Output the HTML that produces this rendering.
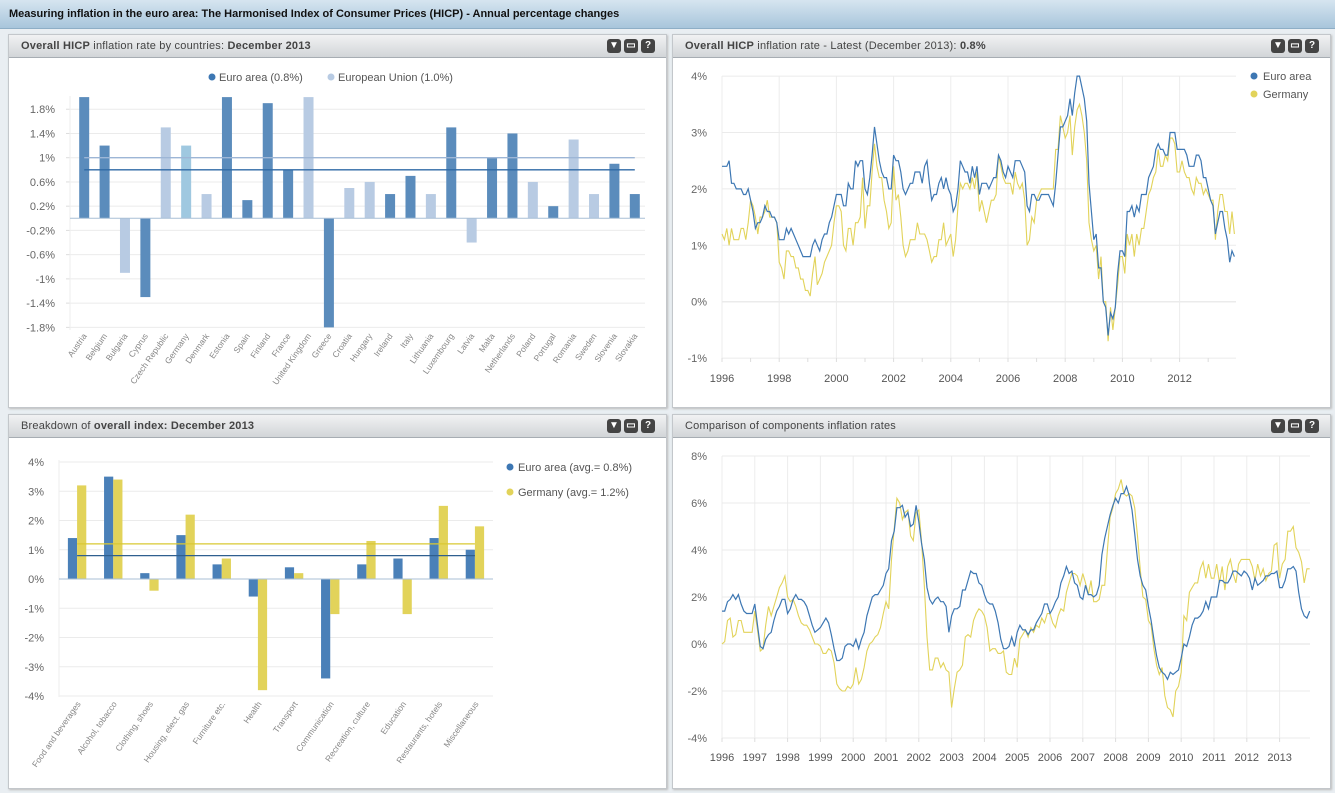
<!DOCTYPE html>
<html><head><meta charset="utf-8">
<style>
body{margin:0;width:1335px;height:793px;background:#e9eef2;font-family:"Liberation Sans",sans-serif;overflow:hidden;position:relative}
.hdr{position:absolute;left:0;top:0;width:1335px;height:28px;background:linear-gradient(#d6e5f0,#a8c5db);border-bottom:1px solid #8eaec6}
.hdr span{position:absolute;left:9px;top:8px;font-size:11px;font-weight:bold;color:#111}
.panel{position:absolute;background:#fff;border:1px solid #c3c7cb;box-shadow:1px 1px 2px #bbb}
.pt{position:absolute;left:0;top:0;right:0;height:22px;background:linear-gradient(#f1f2f3,#d2d5d8);border-bottom:1px solid #a7adb3}
.pt span{position:absolute;left:12px;top:5px;font-size:11px;color:#444;letter-spacing:0.2px}
.ic{position:absolute;top:4px;width:14px;height:14px;border-radius:3px;background:#444;color:#fff;font-size:10px;line-height:14px;text-align:center;font-weight:bold}
svg{position:absolute;left:0;top:0}
</style></head><body>
<div class="hdr"><span>Measuring inflation in the euro area: The Harmonised Index of Consumer Prices (HICP) - Annual percentage changes</span></div>

<div class="panel" style="left:8px;top:34px;width:657px;height:372px">
<div class="pt"><span><b>Overall HICP</b> inflation rate by countries: <b>December 2013</b></span>
<div class="ic" style="left:598px">▼</div><div class="ic" style="left:615px">▭</div><div class="ic" style="left:632px">?</div></div></div>

<div class="panel" style="left:672px;top:34px;width:657px;height:372px">
<div class="pt"><span><b>Overall HICP</b> inflation rate - Latest (December 2013): <b>0.8%</b></span>
<div class="ic" style="left:598px">▼</div><div class="ic" style="left:615px">▭</div><div class="ic" style="left:632px">?</div></div></div>

<div class="panel" style="left:8px;top:414px;width:657px;height:373px">
<div class="pt"><span>Breakdown of <b>overall index: December 2013</b></span>
<div class="ic" style="left:598px">▼</div><div class="ic" style="left:615px">▭</div><div class="ic" style="left:632px">?</div></div></div>

<div class="panel" style="left:672px;top:414px;width:657px;height:373px">
<div class="pt"><span>Comparison of components inflation rates</span>
<div class="ic" style="left:598px">▼</div><div class="ic" style="left:615px">▭</div><div class="ic" style="left:632px">?</div></div></div>

<svg id="s" width="1335" height="793" xmlns="http://www.w3.org/2000/svg" font-family="Liberation Sans, sans-serif"></svg>

<script>
// ---- chart 1: countries ----
const countries=["Austria","Belgium","Bulgaria","Cyprus","Czech Republic","Germany","Denmark","Estonia","Spain","Finland","France","United Kingdom","Greece","Croatia","Hungary","Ireland","Italy","Lithuania","Luxembourg","Latvia","Malta","Netherlands","Poland","Portugal","Romania","Sweden","Slovenia","Slovakia"];
const countryValues=[2.0,1.2,-0.9,-1.3,1.5,1.2,0.4,2.0,0.3,1.9,0.8,2.0,-1.8,0.5,0.6,0.4,0.7,0.4,1.5,-0.4,1.0,1.4,0.6,0.2,1.3,0.4,0.9,0.4];
const countryGroup=["E","E","N","E","N","G","N","E","E","E","E","N","E","N","N","E","E","N","E","N","E","E","N","E","N","N","E","E"];
const countryTicks=[1.8,1.4,1,0.6,0.2,-0.2,-0.6,-1,-1.4,-1.8];
const euroAvg=0.8, euAvg=1.0;
// ---- chart 2: latest ----
const euroMonthly=[2.4,2.4,2.4,2.5,2.1,2.1,2.0,2.0,2.0,1.9,1.9,2.0,
1.8,1.6,1.3,1.4,1.4,1.5,1.7,1.6,1.6,1.5,1.5,1.4,
1.1,1.1,1.1,1.3,1.2,1.3,1.2,1.1,1.0,0.9,0.8,0.8,
0.8,0.8,1.0,1.1,1.0,0.9,1.1,1.2,1.2,1.4,1.5,1.7,
1.9,1.9,1.9,1.7,1.7,2.1,2.0,2.0,2.5,2.4,2.5,2.5,
2.0,1.9,2.2,2.6,3.1,2.8,2.5,2.3,2.2,2.2,2.0,2.0,
2.6,2.5,2.5,2.3,2.0,1.9,2.0,2.1,2.1,2.3,2.3,2.3,
2.1,2.4,2.5,2.1,1.8,1.9,1.9,2.1,2.2,2.0,2.2,2.0,
1.9,1.6,1.7,2.0,2.5,2.4,2.3,2.3,2.1,2.4,2.2,2.4,
1.9,2.1,2.1,2.1,2.0,2.1,2.2,2.2,2.6,2.5,2.3,2.2,
2.4,2.3,2.2,2.5,2.5,2.5,2.4,2.3,1.7,1.6,1.9,1.9,
1.8,1.8,1.9,1.9,1.9,1.9,1.8,1.7,2.1,2.6,3.1,3.1,
3.2,3.3,3.6,3.3,3.7,4.0,4.0,3.8,3.6,3.2,2.1,1.6,
1.1,1.2,0.6,0.6,0.0,-0.1,-0.6,-0.2,-0.3,-0.1,0.5,0.9,
0.9,0.8,1.6,1.6,1.7,1.5,1.7,1.6,1.9,1.9,1.9,2.2,
2.3,2.4,2.7,2.8,2.7,2.7,2.6,2.6,3.0,3.0,3.0,2.7,
2.7,2.7,2.7,2.6,2.4,2.4,2.4,2.6,2.6,2.5,2.2,2.2,
2.0,1.8,1.7,1.2,1.4,1.6,1.6,1.3,1.1,0.7,0.9,0.8];
const germanyMonthly=[1.2,1.1,1.3,1.0,1.3,1.1,1.1,1.1,1.3,1.3,1.1,1.4,
1.8,1.7,1.5,1.2,1.5,1.5,1.6,1.8,1.5,1.5,1.5,1.4,
0.7,0.6,0.4,0.9,0.9,0.8,0.8,0.6,0.6,0.4,0.4,0.2,
0.2,0.1,0.5,0.8,0.3,0.4,0.5,0.7,0.8,0.9,1.0,1.4,
1.7,1.7,1.6,1.0,0.9,1.3,1.3,1.0,1.4,1.4,1.5,2.2,
1.3,1.7,1.7,2.3,2.8,2.4,2.2,2.2,1.8,1.6,1.3,1.4,
2.4,1.8,1.9,1.5,1.0,0.8,0.9,1.1,1.1,1.1,1.4,1.2,
1.2,1.2,1.1,0.9,0.7,0.8,0.8,1.1,1.1,1.4,1.0,1.1,
1.2,0.8,1.1,1.7,2.1,2.0,2.1,2.1,2.0,2.2,2.0,2.3,
1.6,1.8,1.6,1.4,1.6,1.8,1.8,1.9,2.6,2.4,2.2,2.1,
2.1,2.1,1.9,2.3,2.1,2.0,2.1,1.8,1.0,1.1,1.5,1.4,
1.8,1.9,2.0,2.0,2.0,2.0,2.0,2.0,2.7,2.7,3.3,3.1,
2.9,3.0,3.3,2.6,3.1,3.4,3.5,3.3,3.0,2.5,1.4,1.1,
0.9,1.0,0.4,0.8,0.0,0.0,-0.7,-0.1,-0.5,-0.1,0.3,0.8,
0.8,0.5,1.2,1.0,1.2,0.8,1.2,1.0,1.3,1.3,1.6,1.9,
2.0,2.2,2.3,2.7,2.4,2.4,2.6,2.5,2.9,2.9,2.8,2.3,
2.3,2.5,2.3,2.2,2.2,2.0,1.9,2.2,2.1,2.1,1.9,2.0,
1.9,1.8,1.8,1.1,1.6,1.9,1.9,1.6,1.6,1.2,1.6,1.2];
const latestTicks=[4,3,2,1,0,-1];
const latestYears=[1996,1998,2000,2002,2004,2006,2008,2010,2012];
// ---- chart 3: breakdown ----
const categories=["Food and beverages","Alcohol, tobacco","Clothing, shoes","Housing, elect. gas","Furniture etc.","Health","Transport","Communication","Recreation, culture","Education","Restaurants, hotels","Miscellaneous"];
const euroBreakdown=[1.4,3.5,0.2,1.5,0.5,-0.6,0.4,-3.4,0.5,0.7,1.4,1.0];
const germanyBreakdown=[3.2,3.4,-0.4,2.2,0.7,-3.8,0.2,-1.2,1.3,-1.2,2.5,1.8];
const breakdownTicks=[4,3,2,1,0,-1,-2,-3,-4];
const euroBreakAvg=0.8, germanyBreakAvg=1.2;
// ---- chart 4: components ----
const euroComponent=[1.4,1.4,1.8,1.9,2.1,1.9,2.1,1.7,1.4,1.3,1.3,1.3,
1.7,0.8,-0.1,-0.2,0.2,0.4,0.5,1.0,1.4,1.6,1.9,1.9,
1.3,1.5,1.9,2.1,1.9,1.9,1.8,1.6,1.2,0.8,0.5,0.6,
0.7,0.9,1.1,0.9,0.4,-0.2,-0.7,-0.7,-0.6,-0.1,0.0,0.0,
-0.1,0.2,-0.2,0.2,0.5,1.2,1.6,2.0,2.1,2.1,2.3,2.5,
3.0,3.2,4.4,4.8,5.8,5.8,5.9,5.4,5.6,5.0,5.1,5.9,
5.2,4.3,3.6,2.4,1.9,1.7,1.9,2.0,1.8,1.8,1.6,0.5,
1.2,1.5,1.5,1.6,2.3,2.3,2.7,3.1,3.0,3.0,2.6,2.5,
2.1,1.8,1.7,1.7,1.4,0.9,0.2,-0.2,-0.2,-0.1,0.3,-0.1,
0.5,0.8,0.6,0.6,0.4,0.6,0.6,0.9,1.1,1.3,1.7,1.7,
1.3,1.5,1.8,2.0,2.6,2.9,3.3,3.0,3.1,2.6,2.5,2.0,
1.9,2.5,2.1,2.1,2.0,2.1,2.5,3.8,4.5,5.0,5.5,5.9,
6.2,6.0,6.4,6.4,6.7,6.3,5.7,4.7,3.6,2.9,2.5,2.3,
1.6,1.0,0.2,-0.5,-1.0,-1.2,-1.3,-1.5,-1.2,-1.3,-1.2,-1.1,
-0.6,0.0,-0.1,0.3,0.8,1.1,1.1,1.2,1.4,1.8,1.5,2.0,
2.0,2.0,2.7,2.7,2.6,2.6,2.8,3.1,3.1,3.0,2.9,3.1,
3.0,2.8,2.3,2.8,2.5,2.6,2.7,2.9,2.9,3.0,3.0,3.1,
2.4,2.4,2.7,3.2,3.2,3.3,3.1,2.2,1.5,1.2,1.1,1.4];
const germanyComponent=[0.0,0.1,1.0,1.1,0.3,0.4,1.0,1.0,0.5,0.5,0.5,0.5,
1.4,0.6,-0.3,-0.2,0.8,1.6,1.2,1.6,2.0,2.4,2.6,2.9,
2.0,1.8,1.9,1.6,1.2,0.9,0.8,0.8,0.6,0.3,0.0,0.0,
-0.1,-0.4,-0.4,-0.2,-0.3,-0.8,-1.7,-1.9,-2.0,-2.0,-1.8,-1.9,
-1.7,-1.0,-1.7,-1.5,-1.0,-0.3,0.0,0.1,0.3,0.4,0.7,1.3,
1.8,1.5,3.6,4.9,6.2,6.0,5.3,5.6,5.7,4.6,4.4,5.6,
5.7,4.4,2.5,0.3,-1.1,-1.1,-0.6,-0.6,-1.0,-0.8,-1.1,-1.2,
-2.7,-1.9,-1.2,-1.1,-0.9,0.3,0.4,0.3,1.0,1.3,1.5,1.4,
1.2,0.7,-0.3,-0.2,-0.2,-0.4,-0.4,-0.3,-1.2,-1.3,-1.3,-0.6,
-1.0,0.2,0.4,0.6,0.3,0.7,0.5,0.8,0.7,1.1,0.9,1.3,
1.3,0.9,0.7,1.2,1.5,1.4,2.2,2.6,3.0,3.0,2.9,2.5,
3.0,2.6,2.1,2.7,1.8,1.8,1.9,2.5,2.5,4.0,5.4,5.8,
6.4,6.6,7.0,6.4,6.3,6.4,6.3,5.8,4.6,3.2,2.0,1.9,
1.0,0.8,-0.2,-0.9,-1.3,-1.0,-2.2,-2.7,-2.8,-3.1,-2.0,-1.8,
-1.2,1.2,1.0,2.2,2.4,2.6,2.6,3.2,3.5,2.8,3.4,2.8,
2.8,3.4,2.6,3.3,2.3,3.3,3.6,3.0,2.6,3.4,3.6,3.6,
3.6,3.6,3.3,2.7,3.4,2.9,3.2,2.7,3.0,3.1,4.2,4.3,
2.8,3.4,3.6,4.8,4.8,5.0,4.1,3.9,3.5,2.6,3.2,3.2];
const componentTicks=[8,6,4,2,0,-2,-4];
const componentYears=[1996,1997,1998,1999,2000,2001,2002,2003,2004,2005,2006,2007,2008,2009,2010,2011,2012,2013];

const S=document.getElementById('s');
const NS='http://www.w3.org/2000/svg';
function mk(tag,attrs,parent){const e=document.createElementNS(NS,tag);for(const k in attrs)e.setAttribute(k,attrs[k]);(parent||S).appendChild(e);return e;}
function txt(x,y,s,attrs){const e=mk('text',Object.assign({x:x,y:y,'font-size':10,fill:'#666'},attrs||{}));e.textContent=s;return e;}
function fmt(v){return v.toFixed(1)+'%';}
const EB='#3d77b3', EBbar='#5b8cbc', EL='#b8cbe3', YE='#e2d35a';

// ===== Chart 1 =====
(function(){
const g=mk('g',{});


const L=70,R=645,zero=218.3,k=60.6;
const y=v=>zero-v*k;
countryTicks.forEach(t=>{
  const gl=mk('line',{x1:L,x2:R,y1:y(t),y2:y(t),stroke:'#ebebeb'},g);
  
  
  mk('line',{x1:L-4,x2:L,y1:y(t),y2:y(t),stroke:'#ddd'},g);
  const tl=txt(55,y(t)+4,(Math.round(t*10)/10)+'%',{'text-anchor':'end','font-size':11,fill:'#666'});
  
  
  g.appendChild(tl);
});
mk('line',{x1:L,x2:L,y1:96,y2:330,stroke:'#eee'},g);
const pitch=(R-L-4)/countries.length;
countries.forEach((c,i)=>{
  const cx=L+4+pitch*(i+0.5);
  const v=countryValues[i];
  const col=countryGroup[i]==='E'?EBbar:countryGroup[i]==='G'?'#9fc8e0':EL;
  const b=mk('rect',{x:cx-5,y:Math.min(y(v),zero),width:10,height:Math.abs(y(v)-zero),fill:col},g);
  
  
  const t=txt(cx+3,336,c,{'text-anchor':'end','font-size':8.5,fill:'#888',transform:'rotate(-55 '+(cx+3)+' 336)'});
  
  
  g.appendChild(t);
});
mk('line',{x1:L,x2:R,y1:zero,y2:zero,stroke:'#a9bfd6'},g);
const x0=L+4+pitch*0.5, x1=L+4+pitch*(countries.length-0.5);
const l1=mk('line',{x1:x0,x2:x1,y1:y(euAvg),y2:y(euAvg),stroke:'#9db6d6','stroke-width':1.3},g);


const l2=mk('line',{x1:x0,x2:x1,y1:y(euroAvg),y2:y(euroAvg),stroke:'#2f6aa6','stroke-width':1.3},g);


const le=mk('g',{},g);


mk('circle',{cx:212,cy:77,r:3.5,fill:EB},le);
le.appendChild(txt(219,81,'Euro area ('+fmt(euroAvg)+')',{'font-size':11,fill:'#555'}));
const lu=mk('g',{},g);


mk('circle',{cx:331,cy:77,r:3.5,fill:EL},lu);
lu.appendChild(txt(338,81,'European Union ('+fmt(euAvg)+')',{'font-size':11,fill:'#555'}));
})();

// ===== line chart helper =====
function lineChart(o){
const g=mk('g',{});


const y=v=>o.zero-v*o.k;
const x=m=>o.L+m*o.py/12;
o.vgrid.forEach(yr=>{
  const xx=x((yr-1996)*12);
  const vl=mk('line',{x1:xx,x2:xx,y1:o.top,y2:o.bot,stroke:'#ececec'},g);
  
  
});
o.ticks.forEach(t=>{
  const gl=mk('line',{x1:o.L,x2:o.R,y1:y(t),y2:y(t),stroke:'#ebebeb','stroke-width':t===0?1.5:1},g);
  
  
  const tl=txt(707,y(t)+4,t+'%',{'text-anchor':'end','font-size':11,fill:'#666'});
  
  
  g.appendChild(tl);
});
for(let yr=1996;yr<=2013;yr++){const xx=x((yr-1996)*12);mk('line',{x1:xx,x2:xx,y1:o.bot,y2:o.bot+4,stroke:'#ddd'},g);}
o.labels.forEach(yr=>{
  const tl=txt(x((yr-1996)*12),o.lab,String(yr),{'text-anchor':'middle','font-size':11,fill:'#555'});
  
  
  g.appendChild(tl);
});
o.series.forEach(s=>{
  const d=s.data.map((v,i)=>(i?'L':'M')+x(i).toFixed(1)+','+y(v).toFixed(1)).join('');
  const p=mk('path',{d:d,fill:'none',stroke:s.color,'stroke-width':s.w},g);
  
  
});
return g;
}

// ===== Chart 2 =====
(function(){
const g=lineChart({name:'latest-chart',L:722,R:1236,zero:301.7,k:56.4,py:28.6,top:76,bot:358,lab:382,
 ticks:latestTicks,vgrid:latestYears,labels:latestYears,
 series:[{id:'germany-line',data:germanyMonthly,color:YE,w:1.1},{id:'euro-area-line',data:euroMonthly,color:EB,w:1.2}]});
const le=mk('g',{},g);


mk('circle',{cx:1254,cy:76,r:3.5,fill:EB},le);
le.appendChild(txt(1263,80,'Euro area',{'font-size':11,fill:'#555'}));
const lg=mk('g',{},g);


mk('circle',{cx:1254,cy:94,r:3.5,fill:YE},lg);
lg.appendChild(txt(1263,98,'Germany',{'font-size':11,fill:'#555'}));
})();

// ===== Chart 3 =====
(function(){
const g=mk('g',{});


const L=59,R=493,zero=579,k=29.25;
const y=v=>zero-v*k;
breakdownTicks.forEach(t=>{
  const gl=mk('line',{x1:L,x2:R,y1:y(t),y2:y(t),stroke:'#ebebeb'},g);
  
  
  const tl=txt(44,y(t)+4,t+'%',{'text-anchor':'end','font-size':11,fill:'#666'});
  
  
  g.appendChild(tl);
});
mk('line',{x1:L,x2:L,y1:460,y2:697,stroke:'#eee'},g);
const band=(R-L)/categories.length;
categories.forEach((c,i)=>{
  const cx=L+band*(i+0.5);
  const ve=euroBreakdown[i], vg=germanyBreakdown[i];
  const b1=mk('rect',{x:cx-9.2,y:Math.min(y(ve),zero),width:9.2,height:Math.abs(y(ve)-zero),fill:'#4a80b8'},g);
  
  
  const b2=mk('rect',{x:cx,y:Math.min(y(vg),zero),width:9.2,height:Math.abs(y(vg)-zero),fill:YE},g);
  
  
  const t=txt(cx+4,704,c,{'text-anchor':'end','font-size':8.5,fill:'#888',transform:'rotate(-55 '+(cx+4)+' 704)'});
  
  
  g.appendChild(t);
});
mk('line',{x1:L,x2:R,y1:zero,y2:zero,stroke:'#a9bfd6'},g);
const x0=L+band*0.5,x1=L+band*(categories.length-0.5);
const a1=mk('line',{x1:x0,x2:x1,y1:y(germanyBreakAvg),y2:y(germanyBreakAvg),stroke:'#d9c832','stroke-width':1.3},g);


const a2=mk('line',{x1:x0,x2:x1,y1:y(euroBreakAvg),y2:y(euroBreakAvg),stroke:'#2f5f8f','stroke-width':1.3},g);


const le=mk('g',{},g);


mk('circle',{cx:510,cy:467,r:3.5,fill:EB},le);
le.appendChild(txt(518,471,'Euro area (avg.= '+fmt(euroBreakAvg)+')',{'font-size':11,fill:'#555'}));
const lg=mk('g',{},g);


mk('circle',{cx:510,cy:492,r:3.5,fill:YE},lg);
lg.appendChild(txt(518,496,'Germany (avg.= '+fmt(germanyBreakAvg)+')',{'font-size':11,fill:'#555'}));
})();

// ===== Chart 4 =====
lineChart({name:'components-chart',L:722,R:1310,zero:644,k:23.5,py:32.8,top:456,bot:738,lab:761,
 ticks:componentTicks,vgrid:componentYears,labels:componentYears,
 series:[{id:'germany-component-line',data:germanyComponent,color:YE,w:1.1},{id:'euro-component-line',data:euroComponent,color:EB,w:1.2}]});
</script>
</body></html>
